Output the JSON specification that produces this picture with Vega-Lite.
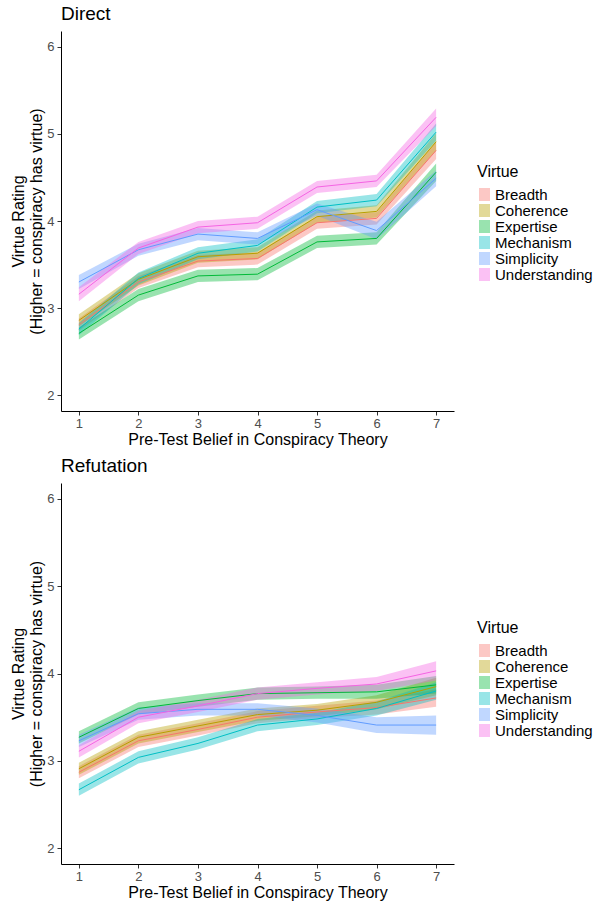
{
  "$schema": "https://vega.github.io/schema/vega-lite/v6.json",
  "padding": {"left": 10, "top": 5, "right": 5, "bottom": 5},
  "spacing": 72,
  "bounds": "flush",
  "config": {
    "font": "Liberation Sans",
    "view": {"stroke": null},
    "axis": {
      "grid": false,
      "domainColor": "#000000",
      "domainWidth": 1,
      "tickColor": "#333333",
      "tickSize": 4,
      "labelColor": "#4D4D4D",
      "labelFontSize": 13,
      "labelFont": "Liberation Sans",
      "titleFont": "Liberation Sans",
      "titleFontSize": 16,
      "titleFontWeight": "normal",
      "titleColor": "#000000",
      "format": "d"
    },
    "title": {"font": "Liberation Sans", "fontSize": 19, "fontWeight": "normal", "anchor": "start", "frame": "group", "color": "#000000", "offset": 7},
    "legend": {"titleFont": "Liberation Sans", "labelFont": "Liberation Sans", "titleFontSize": 16, "titleFontWeight": "normal", "labelFontSize": 15, "titleColor": "#000000", "labelColor": "#000000"}
  },
  "datasets": {
    "ratings": [
      {"panel": "Direct", "virtue": "Breadth", "belief": 1, "rating": 2.81, "lo": 2.74, "hi": 2.88},
      {"panel": "Direct", "virtue": "Breadth", "belief": 2, "rating": 3.30, "lo": 3.23, "hi": 3.37},
      {"panel": "Direct", "virtue": "Breadth", "belief": 3, "rating": 3.54, "lo": 3.47, "hi": 3.61},
      {"panel": "Direct", "virtue": "Breadth", "belief": 4, "rating": 3.57, "lo": 3.50, "hi": 3.64},
      {"panel": "Direct", "virtue": "Breadth", "belief": 5, "rating": 3.98, "lo": 3.91, "hi": 4.05},
      {"panel": "Direct", "virtue": "Breadth", "belief": 6, "rating": 4.03, "lo": 3.96, "hi": 4.10},
      {"panel": "Direct", "virtue": "Breadth", "belief": 7, "rating": 4.81, "lo": 4.71, "hi": 4.91},
      {"panel": "Direct", "virtue": "Coherence", "belief": 1, "rating": 2.86, "lo": 2.79, "hi": 2.93},
      {"panel": "Direct", "virtue": "Coherence", "belief": 2, "rating": 3.33, "lo": 3.26, "hi": 3.40},
      {"panel": "Direct", "virtue": "Coherence", "belief": 3, "rating": 3.59, "lo": 3.52, "hi": 3.66},
      {"panel": "Direct", "virtue": "Coherence", "belief": 4, "rating": 3.63, "lo": 3.56, "hi": 3.70},
      {"panel": "Direct", "virtue": "Coherence", "belief": 5, "rating": 4.05, "lo": 3.98, "hi": 4.12},
      {"panel": "Direct", "virtue": "Coherence", "belief": 6, "rating": 4.11, "lo": 4.04, "hi": 4.18},
      {"panel": "Direct", "virtue": "Coherence", "belief": 7, "rating": 4.91, "lo": 4.81, "hi": 5.01},
      {"panel": "Direct", "virtue": "Expertise", "belief": 1, "rating": 2.71, "lo": 2.64, "hi": 2.78},
      {"panel": "Direct", "virtue": "Expertise", "belief": 2, "rating": 3.15, "lo": 3.08, "hi": 3.22},
      {"panel": "Direct", "virtue": "Expertise", "belief": 3, "rating": 3.37, "lo": 3.30, "hi": 3.44},
      {"panel": "Direct", "virtue": "Expertise", "belief": 4, "rating": 3.39, "lo": 3.32, "hi": 3.46},
      {"panel": "Direct", "virtue": "Expertise", "belief": 5, "rating": 3.76, "lo": 3.69, "hi": 3.83},
      {"panel": "Direct", "virtue": "Expertise", "belief": 6, "rating": 3.80, "lo": 3.73, "hi": 3.87},
      {"panel": "Direct", "virtue": "Expertise", "belief": 7, "rating": 4.56, "lo": 4.46, "hi": 4.66},
      {"panel": "Direct", "virtue": "Mechanism", "belief": 1, "rating": 2.76, "lo": 2.69, "hi": 2.83},
      {"panel": "Direct", "virtue": "Mechanism", "belief": 2, "rating": 3.34, "lo": 3.27, "hi": 3.41},
      {"panel": "Direct", "virtue": "Mechanism", "belief": 3, "rating": 3.63, "lo": 3.56, "hi": 3.70},
      {"panel": "Direct", "virtue": "Mechanism", "belief": 4, "rating": 3.72, "lo": 3.65, "hi": 3.79},
      {"panel": "Direct", "virtue": "Mechanism", "belief": 5, "rating": 4.16, "lo": 4.09, "hi": 4.23},
      {"panel": "Direct", "virtue": "Mechanism", "belief": 6, "rating": 4.24, "lo": 4.17, "hi": 4.31},
      {"panel": "Direct", "virtue": "Mechanism", "belief": 7, "rating": 5.02, "lo": 4.92, "hi": 5.12},
      {"panel": "Direct", "virtue": "Simplicity", "belief": 1, "rating": 3.30, "lo": 3.22, "hi": 3.38},
      {"panel": "Direct", "virtue": "Simplicity", "belief": 2, "rating": 3.67, "lo": 3.60, "hi": 3.74},
      {"panel": "Direct", "virtue": "Simplicity", "belief": 3, "rating": 3.85, "lo": 3.78, "hi": 3.92},
      {"panel": "Direct", "virtue": "Simplicity", "belief": 4, "rating": 3.80, "lo": 3.73, "hi": 3.87},
      {"panel": "Direct", "virtue": "Simplicity", "belief": 5, "rating": 4.13, "lo": 4.06, "hi": 4.20},
      {"panel": "Direct", "virtue": "Simplicity", "belief": 6, "rating": 3.89, "lo": 3.79, "hi": 3.99},
      {"panel": "Direct", "virtue": "Simplicity", "belief": 7, "rating": 4.49, "lo": 4.40, "hi": 4.58},
      {"panel": "Direct", "virtue": "Understanding", "belief": 1, "rating": 3.16, "lo": 3.08, "hi": 3.24},
      {"panel": "Direct", "virtue": "Understanding", "belief": 2, "rating": 3.69, "lo": 3.62, "hi": 3.76},
      {"panel": "Direct", "virtue": "Understanding", "belief": 3, "rating": 3.93, "lo": 3.86, "hi": 4.00},
      {"panel": "Direct", "virtue": "Understanding", "belief": 4, "rating": 3.98, "lo": 3.91, "hi": 4.05},
      {"panel": "Direct", "virtue": "Understanding", "belief": 5, "rating": 4.39, "lo": 4.32, "hi": 4.46},
      {"panel": "Direct", "virtue": "Understanding", "belief": 6, "rating": 4.46, "lo": 4.39, "hi": 4.53},
      {"panel": "Direct", "virtue": "Understanding", "belief": 7, "rating": 5.19, "lo": 5.09, "hi": 5.29},
      {"panel": "Refutation", "virtue": "Breadth", "belief": 1, "rating": 2.87, "lo": 2.80, "hi": 2.94},
      {"panel": "Refutation", "virtue": "Breadth", "belief": 2, "rating": 3.23, "lo": 3.16, "hi": 3.30},
      {"panel": "Refutation", "virtue": "Breadth", "belief": 3, "rating": 3.36, "lo": 3.29, "hi": 3.43},
      {"panel": "Refutation", "virtue": "Breadth", "belief": 4, "rating": 3.50, "lo": 3.43, "hi": 3.57},
      {"panel": "Refutation", "virtue": "Breadth", "belief": 5, "rating": 3.56, "lo": 3.49, "hi": 3.63},
      {"panel": "Refutation", "virtue": "Breadth", "belief": 6, "rating": 3.61, "lo": 3.53, "hi": 3.69},
      {"panel": "Refutation", "virtue": "Breadth", "belief": 7, "rating": 3.72, "lo": 3.62, "hi": 3.82},
      {"panel": "Refutation", "virtue": "Coherence", "belief": 1, "rating": 2.91, "lo": 2.84, "hi": 2.98},
      {"panel": "Refutation", "virtue": "Coherence", "belief": 2, "rating": 3.27, "lo": 3.20, "hi": 3.34},
      {"panel": "Refutation", "virtue": "Coherence", "belief": 3, "rating": 3.40, "lo": 3.33, "hi": 3.47},
      {"panel": "Refutation", "virtue": "Coherence", "belief": 4, "rating": 3.53, "lo": 3.46, "hi": 3.60},
      {"panel": "Refutation", "virtue": "Coherence", "belief": 5, "rating": 3.58, "lo": 3.51, "hi": 3.65},
      {"panel": "Refutation", "virtue": "Coherence", "belief": 6, "rating": 3.67, "lo": 3.59, "hi": 3.75},
      {"panel": "Refutation", "virtue": "Coherence", "belief": 7, "rating": 3.85, "lo": 3.75, "hi": 3.95},
      {"panel": "Refutation", "virtue": "Expertise", "belief": 1, "rating": 3.27, "lo": 3.20, "hi": 3.34},
      {"panel": "Refutation", "virtue": "Expertise", "belief": 2, "rating": 3.60, "lo": 3.53, "hi": 3.67},
      {"panel": "Refutation", "virtue": "Expertise", "belief": 3, "rating": 3.69, "lo": 3.62, "hi": 3.76},
      {"panel": "Refutation", "virtue": "Expertise", "belief": 4, "rating": 3.77, "lo": 3.70, "hi": 3.84},
      {"panel": "Refutation", "virtue": "Expertise", "belief": 5, "rating": 3.78, "lo": 3.71, "hi": 3.85},
      {"panel": "Refutation", "virtue": "Expertise", "belief": 6, "rating": 3.79, "lo": 3.71, "hi": 3.87},
      {"panel": "Refutation", "virtue": "Expertise", "belief": 7, "rating": 3.87, "lo": 3.77, "hi": 3.97},
      {"panel": "Refutation", "virtue": "Mechanism", "belief": 1, "rating": 2.67, "lo": 2.60, "hi": 2.74},
      {"panel": "Refutation", "virtue": "Mechanism", "belief": 2, "rating": 3.04, "lo": 2.97, "hi": 3.11},
      {"panel": "Refutation", "virtue": "Mechanism", "belief": 3, "rating": 3.20, "lo": 3.13, "hi": 3.27},
      {"panel": "Refutation", "virtue": "Mechanism", "belief": 4, "rating": 3.41, "lo": 3.34, "hi": 3.48},
      {"panel": "Refutation", "virtue": "Mechanism", "belief": 5, "rating": 3.48, "lo": 3.41, "hi": 3.55},
      {"panel": "Refutation", "virtue": "Mechanism", "belief": 6, "rating": 3.60, "lo": 3.52, "hi": 3.68},
      {"panel": "Refutation", "virtue": "Mechanism", "belief": 7, "rating": 3.80, "lo": 3.70, "hi": 3.90},
      {"panel": "Refutation", "virtue": "Simplicity", "belief": 1, "rating": 3.23, "lo": 3.16, "hi": 3.30},
      {"panel": "Refutation", "virtue": "Simplicity", "belief": 2, "rating": 3.54, "lo": 3.47, "hi": 3.61},
      {"panel": "Refutation", "virtue": "Simplicity", "belief": 3, "rating": 3.59, "lo": 3.52, "hi": 3.66},
      {"panel": "Refutation", "virtue": "Simplicity", "belief": 4, "rating": 3.59, "lo": 3.52, "hi": 3.66},
      {"panel": "Refutation", "virtue": "Simplicity", "belief": 5, "rating": 3.52, "lo": 3.44, "hi": 3.60},
      {"panel": "Refutation", "virtue": "Simplicity", "belief": 6, "rating": 3.41, "lo": 3.32, "hi": 3.50},
      {"panel": "Refutation", "virtue": "Simplicity", "belief": 7, "rating": 3.41, "lo": 3.30, "hi": 3.52},
      {"panel": "Refutation", "virtue": "Understanding", "belief": 1, "rating": 3.11, "lo": 3.04, "hi": 3.18},
      {"panel": "Refutation", "virtue": "Understanding", "belief": 2, "rating": 3.50, "lo": 3.43, "hi": 3.57},
      {"panel": "Refutation", "virtue": "Understanding", "belief": 3, "rating": 3.63, "lo": 3.56, "hi": 3.70},
      {"panel": "Refutation", "virtue": "Understanding", "belief": 4, "rating": 3.77, "lo": 3.70, "hi": 3.84},
      {"panel": "Refutation", "virtue": "Understanding", "belief": 5, "rating": 3.83, "lo": 3.76, "hi": 3.90},
      {"panel": "Refutation", "virtue": "Understanding", "belief": 6, "rating": 3.88, "lo": 3.80, "hi": 3.96},
      {"panel": "Refutation", "virtue": "Understanding", "belief": 7, "rating": 4.03, "lo": 3.92, "hi": 4.14}
    ]
  },
  "resolve": {"scale": {"color": "independent"}, "legend": {"color": "independent"}},
  "vconcat": [
    {
      "title": "Direct",
      "width": 393,
      "height": 380,
      "data": {"name": "ratings"},
      "transform": [{"filter": "datum.panel === 'Direct'"}],
      "encoding": {
        "x": {"field": "belief", "type": "quantitative", "scale": {"domain": [0.7, 7.3], "nice": false, "zero": false}, "axis": {"values": [1, 2, 3, 4, 5, 6, 7], "title": "Pre-Test Belief in Conspiracy Theory", "labelPadding": 2, "titlePadding": 1}},
        "color": {"field": "virtue", "type": "nominal", "scale": {"domain": ["Breadth", "Coherence", "Expertise", "Mechanism", "Simplicity", "Understanding"], "range": ["#F8766D", "#B79F00", "#00BA38", "#00BFC4", "#619CFF", "#F564E3"]}, "legend": {"title": "Virtue", "orient": "none", "legendX": 416, "legendY": 133, "symbolType": "M-0.85,-1H0.85V1H-0.85Z", "symbolSize": 169, "symbolOpacity": 0.4, "symbolStrokeWidth": 0, "rowPadding": 0, "labelOffset": 3, "titlePadding": 7}}
      },
      "layer": [
        {"mark": {"type": "area", "opacity": 0.4}, "encoding": {"y": {"field": "lo", "type": "quantitative", "scale": {"domain": [1.82, 6.18], "nice": false, "zero": false}, "axis": {"values": [2, 3, 4, 5, 6], "title": ["Virtue Rating", "(Higher = conspiracy has virtue)"], "titleLineHeight": 18, "labelPadding": 3, "titlePadding": 2}}, "y2": {"field": "hi"}}},
        {"mark": {"type": "line", "strokeWidth": 1}, "encoding": {"y": {"field": "rating", "type": "quantitative"}}}
      ]
    },
    {
      "title": "Refutation",
      "width": 393,
      "height": 381,
      "data": {"name": "ratings"},
      "transform": [{"filter": "datum.panel === 'Refutation'"}],
      "encoding": {
        "x": {"field": "belief", "type": "quantitative", "scale": {"domain": [0.7, 7.3], "nice": false, "zero": false}, "axis": {"values": [1, 2, 3, 4, 5, 6, 7], "title": "Pre-Test Belief in Conspiracy Theory", "labelPadding": 2, "titlePadding": 1}},
        "color": {"field": "virtue", "type": "nominal", "scale": {"domain": ["Breadth", "Coherence", "Expertise", "Mechanism", "Simplicity", "Understanding"], "range": ["#F8766D", "#B79F00", "#00BA38", "#00BFC4", "#619CFF", "#F564E3"]}, "legend": {"title": "Virtue", "orient": "none", "legendX": 416, "legendY": 137, "symbolType": "M-0.85,-1H0.85V1H-0.85Z", "symbolSize": 169, "symbolOpacity": 0.4, "symbolStrokeWidth": 0, "rowPadding": 0, "labelOffset": 3, "titlePadding": 7}}
      },
      "layer": [
        {"mark": {"type": "area", "opacity": 0.4}, "encoding": {"y": {"field": "lo", "type": "quantitative", "scale": {"domain": [1.82, 6.18], "nice": false, "zero": false}, "axis": {"values": [2, 3, 4, 5, 6], "title": ["Virtue Rating", "(Higher = conspiracy has virtue)"], "titleLineHeight": 18, "labelPadding": 3, "titlePadding": 2}}, "y2": {"field": "hi"}}},
        {"mark": {"type": "line", "strokeWidth": 1}, "encoding": {"y": {"field": "rating", "type": "quantitative"}}}
      ]
    }
  ]
}
